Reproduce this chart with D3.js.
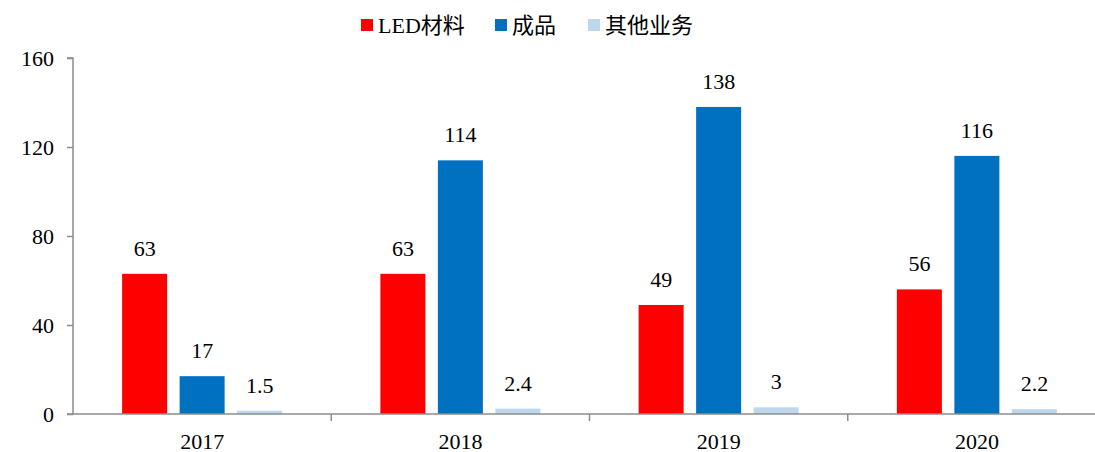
<!DOCTYPE html>
<html>
<head>
<meta charset="utf-8">
<script src="https://cdn.jsdelivr.net/npm/d3@7"></script>
<style>
  html, body { margin: 0; padding: 0; background: #fff; }
  svg { display: block; }
</style>
</head>
<body>
<svg id="chart" width="1095" height="452"></svg>
<script>
// Revenue by segment, 2017–2020
const years = ["2017", "2018", "2019", "2020"];
const seriesNames = ["LED材料", "成品", "其他业务"];
const ledValues = [63, 63, 49, 56];
const productValues = [17, 114, 138, 116];
const otherValues = [1.5, 2.4, 3, 2.2];
const yTicks = [0, 40, 80, 120, 160];
const colors = ["#FF0000", "#0070C0", "#BDD7EE"];

const seriesValues = [ledValues, productValues, otherValues];

(function draw() {
  const FONT = "'Times New Roman', 'Liberation Serif', 'DejaVu Serif', 'Noto Sans CJK SC', serif";
  const FS = "22px";
  const svg = d3.select("#chart");
  const W = 1095;
  const plotLeft = 73, plotTop = 58, plotBottom = 414, bandRight = 1106;

  const x = d3.scaleBand().domain(years).range([plotLeft, bandRight]).paddingInner(0).paddingOuter(0);
  const y = d3.scaleLinear().domain([0, 160]).range([plotBottom, plotTop]);

  const barW = 45, barStep = 57.5;
  const groupW = 2 * barStep + barW;
  const offset = (x.bandwidth() - groupW) / 2;
  const inner = d3.scaleBand().domain(seriesNames)
    .range([offset, offset + groupW])
    .paddingInner((barStep - barW) / barStep).paddingOuter(0);

  const axisColor = "#8c8c8c";

  // bars
  const groups = svg.append("g").selectAll("g")
    .data(years)
    .join("g")
    .attr("transform", d => `translate(${x(d)},0)`);

  const cells = (d, i) => seriesNames.map((s, k) => ({ s, v: seriesValues[k][i], k }));

  groups.selectAll("rect")
    .data(cells)
    .join("rect")
    .attr("x", d => inner(d.s))
    .attr("width", inner.bandwidth())
    .attr("y", d => y(d.v))
    .attr("height", d => y(0) - y(d.v))
    .attr("fill", d => colors[d.k]);

  groups.selectAll("text.val")
    .data(cells)
    .join("text")
    .attr("class", "val")
    .attr("x", d => inner(d.s) + inner.bandwidth() / 2)
    .attr("y", d => y(d.v) - 18)
    .attr("text-anchor", "middle")
    .style("font-family", FONT)
    .style("font-size", FS)
    .style("fill", "#000")
    .text(d => d.v);

  // y axis
  const yAxis = svg.append("g")
    .attr("transform", `translate(${plotLeft},0)`)
    .call(d3.axisLeft(y).tickValues(yTicks).tickSize(6).tickPadding(13));
  yAxis.select(".domain").attr("stroke", axisColor).attr("stroke-width", 1.5).attr("d", `M-6,${plotTop}H0V${plotBottom}H-6`);
  yAxis.selectAll(".tick line").attr("stroke", axisColor).attr("stroke-width", 1.5);
  yAxis.selectAll(".tick text")
    .style("font-family", FONT)
    .style("font-size", FS)
    .style("fill", "#000");

  // x axis
  const xAxis = svg.append("g")
    .attr("transform", `translate(0,${plotBottom})`)
    .call(d3.axisBottom(x).tickSize(0));
  xAxis.select(".domain").attr("stroke", axisColor).attr("stroke-width", 1.5).attr("d", `M${plotLeft},0H${W}`);
  xAxis.selectAll(".tick text")
    .attr("y", 35)
    .attr("dy", null)
    .style("font-family", FONT)
    .style("font-size", FS)
    .style("fill", "#000");

  // category separators
  xAxis.append("g").selectAll("line")
    .data(years.slice(1))
    .join("line")
    .attr("x1", d => x(d)).attr("x2", d => x(d))
    .attr("y1", 0).attr("y2", 7)
    .attr("stroke", axisColor).attr("stroke-width", 1.5);

  // legend
  const legendItems = [
    { name: seriesNames[0], x: 361 },
    { name: seriesNames[1], x: 495 },
    { name: seriesNames[2], x: 588 }
  ];
  const legend = svg.append("g");
  legendItems.forEach((it, i) => {
    legend.append("rect")
      .attr("x", it.x).attr("y", 19).attr("width", 12).attr("height", 12)
      .attr("fill", colors[i]);
    legend.append("text")
      .attr("x", it.x + 17).attr("y", 33)
      .style("font-family", FONT)
      .style("font-size", FS)
      .style("fill", "#000")
      .text(it.name);
  });
})();
</script>
</body>
</html>
